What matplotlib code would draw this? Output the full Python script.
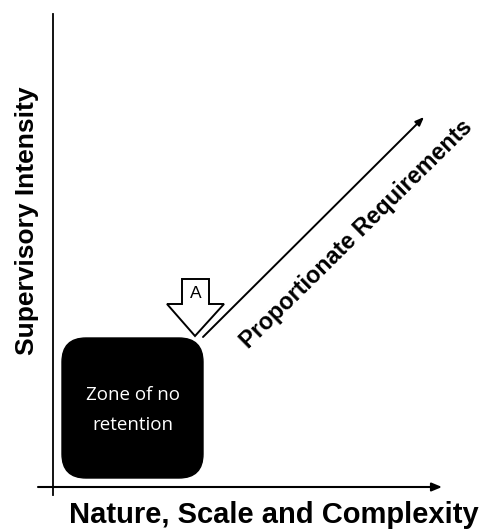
import matplotlib
matplotlib.use("Agg")
import matplotlib.pyplot as plt
from matplotlib.patches import FancyBboxPatch, Polygon

x_label = "Nature, Scale and Complexity"
y_label = "Supervisory Intensity"
zone_label = "Zone of no\nretention"
diag_label = "Proportionate Requirements"
marker_label = "A"

W, H = 483, 531
fig = plt.figure(figsize=(W / 100, H / 100), dpi=100)
ax = fig.add_axes([0, 0, 1, 1])
ax.set_xlim(0, W)
ax.set_ylim(H, 0)
ax.axis("off")

# axes lines
ax.plot([53, 53], [14, 495], color="black", lw=1.3)
ax.annotate("", xy=(442, 487), xytext=(38, 487),
            arrowprops=dict(arrowstyle="-|>,head_length=0.6,head_width=0.25",
                            color="black", lw=1.5, shrinkA=0, shrinkB=0))

# zone box
box = FancyBboxPatch((62, 338), 141, 140,
                     boxstyle="round,pad=0,rounding_size=24",
                     fc="black", ec="black", lw=1)
ax.add_patch(box)
ax.text(133, 410, zone_label, color="white", ha="center", va="center",
        fontsize=13.5, family="Open Sans", linespacing=1.8)

# diagonal arrow
ax.annotate("", xy=(424, 117), xytext=(203, 337),
            arrowprops=dict(arrowstyle="-|>,head_length=0.5,head_width=0.2",
                            color="black", lw=1.4, shrinkA=0, shrinkB=0))
ax.text(356, 234, diag_label, rotation=44.5, rotation_mode="anchor",
        ha="center", va="center", fontsize=16.8, family="Liberation Sans",
        fontweight="bold")

# block arrow "A"
pts = [(182, 279), (209, 279), (209, 304), (224, 304), (195, 336),
       (167, 304), (182, 304)]
ax.add_patch(Polygon(pts, closed=True, fc="white", ec="black", lw=1.4,
                     joinstyle="miter"))
ax.text(195.5, 294, marker_label, ha="center", va="center", fontsize=12.5,
        family="Liberation Sans")

# labels
ax.text(27, 221, y_label, rotation=90, ha="center", va="center",
        fontsize=19, fontweight="bold", family="Liberation Sans")
ax.text(274, 515, x_label, ha="center", va="center",
        fontsize=21, fontweight="bold", family="Liberation Sans")

fig.savefig("out.png", dpi=100)
